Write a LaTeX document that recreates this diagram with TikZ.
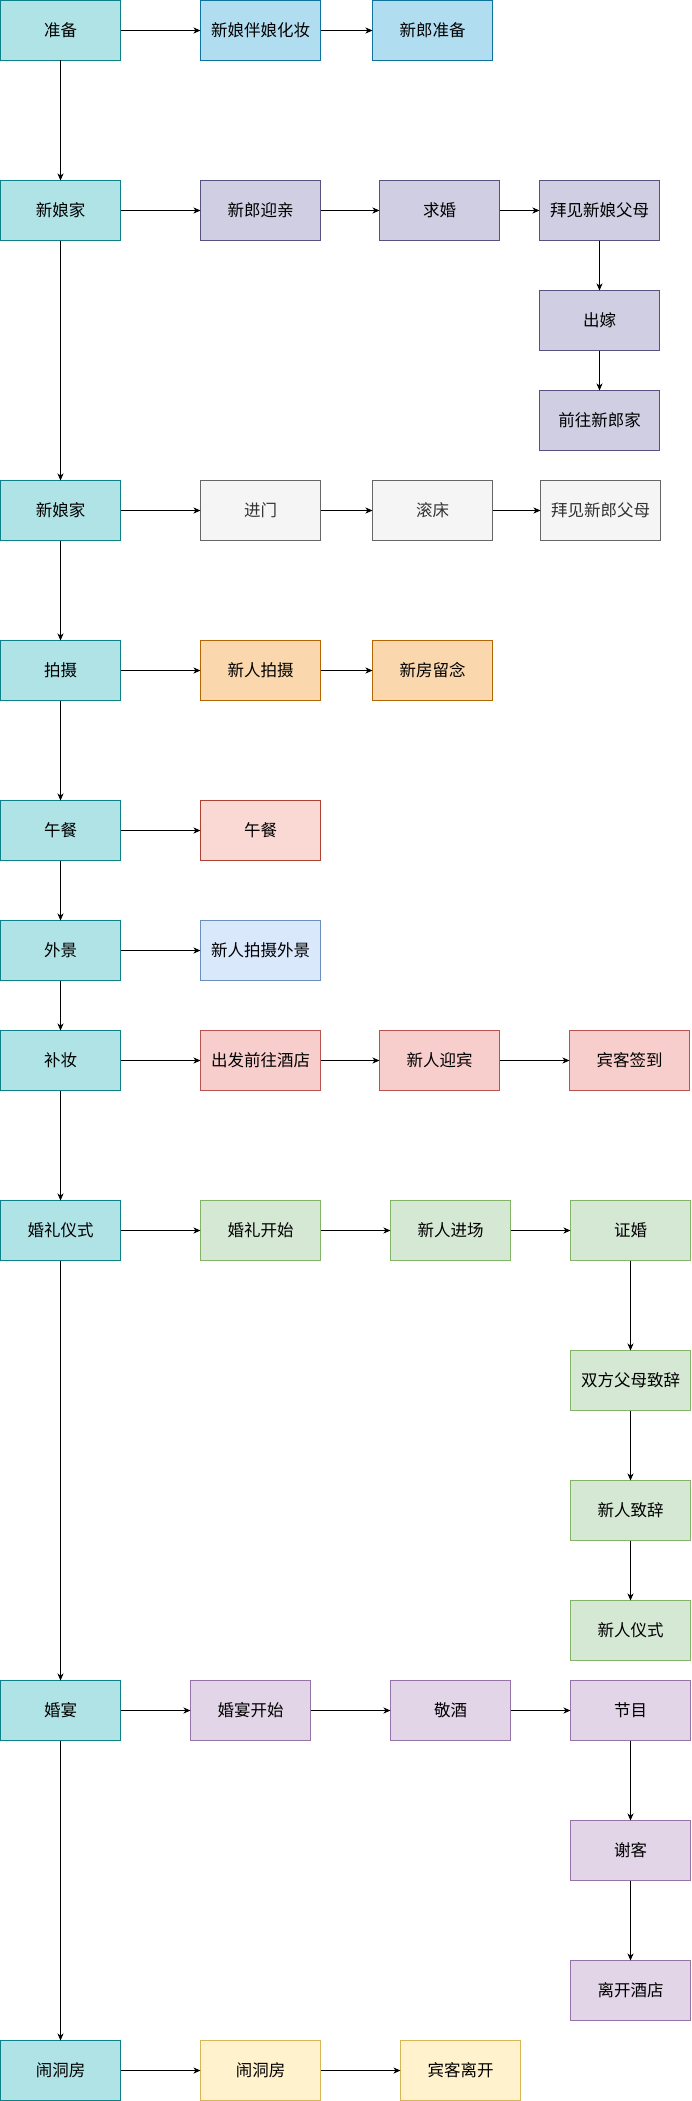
\documentclass[tikz,border=0pt]{standalone}
\usepackage{fontspec}
\newfontfamily\cjk{Noto Sans CJK SC}
\usetikzlibrary{arrows.meta,positioning}
\definecolor{stageF}{HTML}{B0E3E6}\definecolor{stageD}{HTML}{0E8088}
\definecolor{prepF}{HTML}{B1DDF0}\definecolor{prepD}{HTML}{10739E}
\definecolor{fetchF}{HTML}{D0CEE2}\definecolor{fetchD}{HTML}{56517E}
\definecolor{homeF}{HTML}{F5F5F5}\definecolor{homeD}{HTML}{666666}
\definecolor{photoF}{HTML}{FAD7AC}\definecolor{photoD}{HTML}{B46504}
\definecolor{lunchF}{HTML}{FAD9D5}\definecolor{lunchD}{HTML}{AE4132}
\definecolor{sceneF}{HTML}{DAE8FC}\definecolor{sceneD}{HTML}{6C8EBF}
\definecolor{hotelF}{HTML}{F8CECC}\definecolor{hotelD}{HTML}{B85450}
\definecolor{riteF}{HTML}{D5E8D4}\definecolor{riteD}{HTML}{82B366}
\definecolor{feastF}{HTML}{E1D5E7}\definecolor{feastD}{HTML}{9673A6}
\definecolor{teaseF}{HTML}{FFF2CC}\definecolor{teaseD}{HTML}{D6B656}
\begin{document}
\begin{tikzpicture}[
  x=1pt, y=1pt,
  node distance=60pt,
  box/.style={draw, line width=0.8pt, minimum width=120pt, minimum height=60pt,
    inner sep=0pt, outer sep=0pt, font=\cjk\fontsize{16.5}{19}\selectfont},
  stage/.style={box, fill=stageF, draw=stageD},
  prep/.style={box, fill=prepF, draw=prepD},
  fetch/.style={box, fill=fetchF, draw=fetchD},
  home/.style={box, fill=homeF, draw=homeD, text=homeD!50!black},
  photo/.style={box, fill=photoF, draw=photoD},
  lunch/.style={box, fill=lunchF, draw=lunchD},
  scene/.style={box, fill=sceneF, draw=sceneD},
  hotel/.style={box, fill=hotelF, draw=hotelD},
  rite/.style={box, fill=riteF, draw=riteD},
  feast/.style={box, fill=feastF, draw=feastD},
  tease/.style={box, fill=teaseF, draw=teaseD},
  arrow/.style={-{Stealth[length=7pt,width=6pt,inset=2pt]}, line width=0.8pt}
]
\useasboundingbox (0,0) rectangle (691,-2101);
\node[stage, anchor=north west] (zb) at (0.5,-0.5) {准备};
\node[stage, below=120pt of zb] (xnj) {新娘家};
\node[stage, below=240pt of xnj] (xnj2) {新娘家};
\node[stage, below=100pt of xnj2] (ps) {拍摄};
\node[stage, below=100pt of ps] (wc) {午餐};
\node[stage, below=60pt of wc] (wj) {外景};
\node[stage, below=50pt of wj] (bz) {补妆};
\node[stage, below=110pt of bz] (hlys) {婚礼仪式};
\node[stage, below=420pt of hlys] (hy) {婚宴};
\node[stage, below=300pt of hy] (ndf) {闹洞房};

\node[prep, right=80pt of zb] (hz) {新娘伴娘化妆};
\node[prep, right=52pt of hz] (xlzb) {新郎准备};

\node[fetch, right=80pt of xnj] (yq) {新郎迎亲};
\node[fetch, right=59pt of yq] (qh) {求婚};
\node[fetch, right=40pt of qh] (bjxn) {拜见新娘父母};
\node[fetch, below=50pt of bjxn] (cj) {出嫁};
\node[fetch, below=40pt of cj] (qw) {前往新郎家};

\node[home, right=80pt of xnj2] (jm) {进门};
\node[home, right=52pt of jm] (gc) {滚床};
\node[home, right=48pt of gc] (bjxl) {拜见新郎父母};

\node[photo, right=80pt of ps] (xrps) {新人拍摄};
\node[photo, right=52pt of xrps] (lj) {新房留念};

\node[lunch, right=80pt of wc] (wc2) {午餐};

\node[scene, right=80pt of wj] (wjps) {新人拍摄外景};

\node[hotel, right=80pt of bz] (cf) {出发前往酒店};
\node[hotel, right=59pt of cf] (yb) {新人迎宾};
\node[hotel, right=70pt of yb] (qd) {宾客签到};

\node[rite, right=80pt of hlys] (ks) {婚礼开始};
\node[rite, right=70pt of ks] (jc) {新人进场};
\node[rite, right=60pt of jc] (zh) {证婚};
\node[rite, below=90pt of zh] (fmzc) {双方父母致辞};
\node[rite, below=70pt of fmzc] (xrzc) {新人致辞};
\node[rite, below=60pt of xrzc] (xrys) {新人仪式};

\node[feast, right=70pt of hy] (yks) {婚宴开始};
\node[feast, right=80pt of yks] (jj) {敬酒};
\node[feast, right=60pt of jj] (jm2) {节目};
\node[feast, below=80pt of jm2] (xk) {谢客};
\node[feast, below=80pt of xk] (lk) {离开酒店};

\node[tease, right=80pt of ndf] (ndf2) {闹洞房};
\node[tease, right=80pt of ndf2] (bklk) {宾客离开};

\draw[arrow] (zb)--(xnj);
\draw[arrow] (xnj)--(xnj2);
\draw[arrow] (xnj2)--(ps);
\draw[arrow] (ps)--(wc);
\draw[arrow] (wc)--(wj);
\draw[arrow] (wj)--(bz);
\draw[arrow] (bz)--(hlys);
\draw[arrow] (hlys)--(hy);
\draw[arrow] (hy)--(ndf);

\draw[arrow] (zb)--(hz);
\draw[arrow] (hz)--(xlzb);
\draw[arrow] (xnj)--(yq);
\draw[arrow] (yq)--(qh);
\draw[arrow] (qh)--(bjxn);
\draw[arrow] (bjxn)--(cj);
\draw[arrow] (cj)--(qw);
\draw[arrow] (xnj2)--(jm);
\draw[arrow] (jm)--(gc);
\draw[arrow] (gc)--(bjxl);
\draw[arrow] (ps)--(xrps);
\draw[arrow] (xrps)--(lj);
\draw[arrow] (wc)--(wc2);
\draw[arrow] (wj)--(wjps);
\draw[arrow] (bz)--(cf);
\draw[arrow] (cf)--(yb);
\draw[arrow] (yb)--(qd);
\draw[arrow] (hlys)--(ks);
\draw[arrow] (ks)--(jc);
\draw[arrow] (jc)--(zh);
\draw[arrow] (zh)--(fmzc);
\draw[arrow] (fmzc)--(xrzc);
\draw[arrow] (xrzc)--(xrys);
\draw[arrow] (hy)--(yks);
\draw[arrow] (yks)--(jj);
\draw[arrow] (jj)--(jm2);
\draw[arrow] (jm2)--(xk);
\draw[arrow] (xk)--(lk);
\draw[arrow] (ndf)--(ndf2);
\draw[arrow] (ndf2)--(bklk);
\end{tikzpicture}
\end{document}
